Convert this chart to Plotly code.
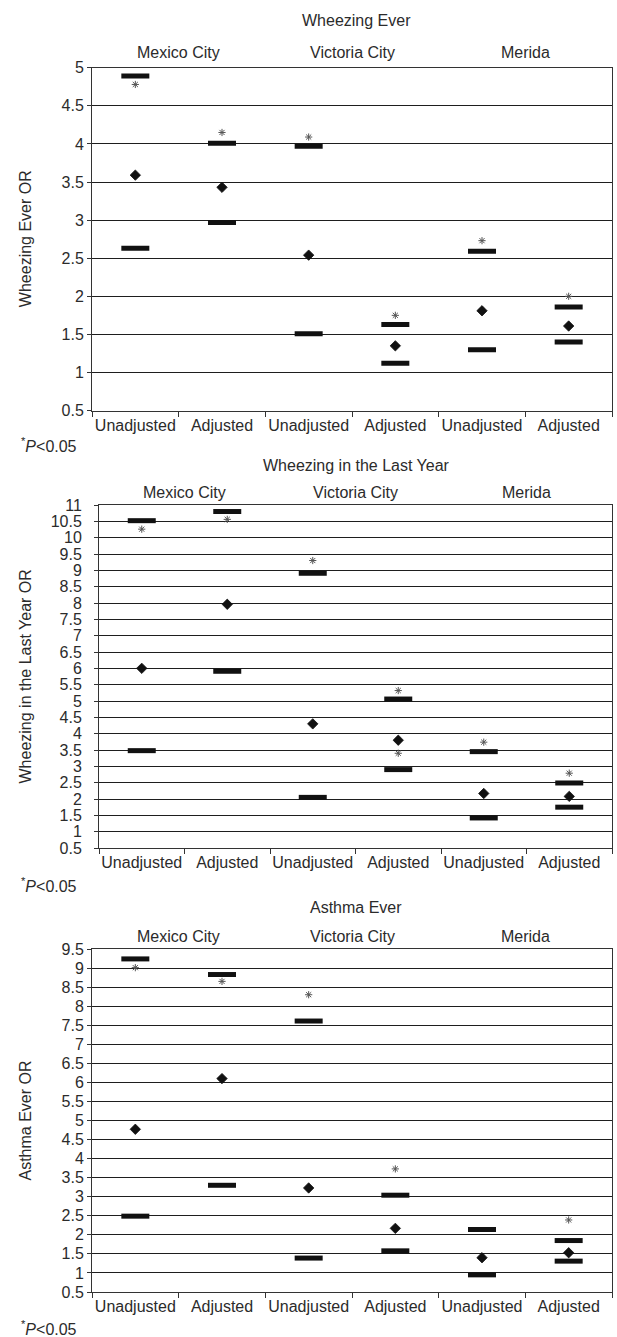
import plotly.graph_objects as go

# ---------------- data ----------------
groups = ["Unadjusted", "Adjusted", "Unadjusted", "Adjusted", "Unadjusted", "Adjusted"]
group_pos = [0, 1, 2, 3, 4, 5]
cities = ["Mexico City", "Victoria City", "Merida"]
city_pos = [0.5, 2.5, 4.5]
boundaries = [-0.5, 0.5, 1.5, 2.5, 3.5, 4.5, 5.5]

panel_titles = ["Wheezing Ever", "Wheezing in the Last Year", "Asthma Ever"]
yaxis_titles = ["Wheezing Ever OR", "Wheezing in the Last Year OR", "Asthma Ever OR"]

# Wheezing Ever
we_or = [3.59, 3.43, 2.54, 1.35, 1.81, 1.61]
we_upper = [4.89, 4.01, 3.97, 1.63, 2.59, 1.86]
we_lower = [2.63, 2.97, 1.51, 1.12, 1.30, 1.40]
we_star_x = [0, 1, 2, 3, 4, 5]
we_star_y = [4.78, 4.15, 4.09, 1.75, 2.73, 2.00]
we_ticks = [0.5, 1, 1.5, 2, 2.5, 3, 3.5, 4, 4.5, 5]

# Wheezing in the Last Year
wl_or = [6.00, 7.96, 4.30, 3.80, 2.17, 2.08]
wl_upper = [10.52, 10.80, 8.91, 5.06, 3.45, 2.49]
wl_lower = [3.48, 5.91, 2.05, 2.90, 1.42, 1.75]
wl_star_x = [0, 1, 2, 3, 3, 4, 5]
wl_star_y = [10.26, 10.56, 9.30, 5.32, 3.40, 3.74, 2.79]
wl_ticks = [0.5, 1, 1.5, 2, 2.5, 3, 3.5, 4, 4.5, 5, 5.5, 6, 6.5, 7, 7.5, 8,
            8.5, 9, 9.5, 10, 10.5, 11]

# Asthma Ever
ae_or = [4.77, 6.10, 3.23, 2.17, 1.40, 1.53]
ae_upper = [9.24, 8.83, 7.61, 3.04, 2.14, 1.85]
ae_lower = [2.49, 3.30, 1.39, 1.58, 0.95, 1.31]
ae_star_x = [0, 1, 2, 3, 5]
ae_star_y = [9.01, 8.65, 8.30, 3.73, 2.39]
ae_ticks = [0.5, 1, 1.5, 2, 2.5, 3, 3.5, 4, 4.5, 5, 5.5, 6, 6.5, 7, 7.5, 8,
            8.5, 9, 9.5]

panels = [
    (we_or, we_upper, we_lower, we_star_x, we_star_y, we_ticks),
    (wl_or, wl_upper, wl_lower, wl_star_x, wl_star_y, wl_ticks),
    (ae_or, ae_upper, ae_lower, ae_star_x, ae_star_y, ae_ticks),
]

# ---------------- layout geometry (pixels) ----------------
W, H = 617, 1337
FONT = "Liberation Sans, Arial, sans-serif"
TXT = "#2b2b2b"
geo = [
    # left, right, top, bottom, title_y, city_y, note_y, label standoff
    (92, 612, 67.7, 410.6, 21, 52.5, 445, 0),
    (99, 612, 505, 848, 465, 492, 885, 9),
    (92, 612, 949, 1292, 907, 936, 1328, 0),
]


def xp(p):
    return p / W


def yp(p):
    return 1 - p / H


fig = go.Figure()
annotations = []
layout_axes = {}

for i, (orv, up, lo, sx, sy, ticks) in enumerate(panels):
    n = "" if i == 0 else str(i + 1)
    xa, ya = "x" + n, "y" + n
    left, right, top, bottom, ty, cy, ny, standoff = geo[i]

    # CI bounds
    for vals in (up, lo):
        fig.add_trace(go.Scatter(
            x=group_pos, y=vals, mode="markers", xaxis=xa, yaxis=ya,
            marker=dict(symbol="line-ew", size=20, color="#111111",
                        line=dict(width=5, color="#111111")),
            showlegend=False, hoverinfo="skip"))
    # OR point
    fig.add_trace(go.Scatter(
        x=group_pos, y=orv, mode="markers", xaxis=xa, yaxis=ya,
        marker=dict(symbol="diamond", size=8, color="#111111",
                    line=dict(width=0.8, color="#111111")),
        showlegend=False))
    # significance stars
    fig.add_trace(go.Scatter(
        x=sx, y=sy, mode="markers", xaxis=xa, yaxis=ya,
        marker=dict(symbol="asterisk-open", size=6, color="#555555",
                    line=dict(width=1, color="#555555")),
        showlegend=False, hoverinfo="skip"))

    layout_axes["xaxis" + n] = dict(
        domain=[xp(left), xp(right)], anchor=ya, range=[-0.5, 5.5],
        tickmode="array", tickvals=group_pos, ticktext=groups, ticks="",
        showgrid=False, zeroline=False, showline=True, linecolor="#333333",
        linewidth=1, mirror=True, automargin=False,
        tickfont=dict(family=FONT, size=16, color=TXT),
        minor=dict(tickmode="array", tickvals=boundaries, ticks="outside",
                   ticklen=5, tickcolor="#333333", showgrid=False),
    )
    layout_axes["yaxis" + n] = dict(
        domain=[yp(bottom), yp(top)], anchor=xa, range=[0.5, ticks[-1]],
        tickmode="array", tickvals=ticks, ticks="outside", ticklen=4,
        tickcolor="#333333", showgrid=True, gridcolor="#1e1e1e",
        gridwidth=1.3, zeroline=False, showline=True, linecolor="#333333",
        linewidth=1, mirror=True, ticklabelstandoff=standoff,
        automargin=False,
        tickfont=dict(family=FONT, size=16, color=TXT),
    )

    # panel title
    annotations.append(dict(
        text=panel_titles[i], xref="paper", yref="paper",
        x=xp((92 + 612) / 2 + 4), y=yp(ty), xanchor="center", yanchor="middle",
        showarrow=False, font=dict(family=FONT, size=16, color=TXT)))
    # city labels
    for c, cp in zip(cities, city_pos):
        annotations.append(dict(
            text=c, xref=xa, yref="paper", x=cp, y=yp(cy),
            xanchor="center", yanchor="middle", showarrow=False,
            font=dict(family=FONT, size=16, color=TXT)))
    # y-axis title
    annotations.append(dict(
        text=yaxis_titles[i], xref="paper", yref="paper", x=xp(25),
        y=yp((top + bottom) / 2), xanchor="center", yanchor="middle",
        textangle=-90, showarrow=False,
        font=dict(family=FONT, size=16, color=TXT)))
    # significance note
    annotations.append(dict(
        text="<sup>*</sup><i>P</i>&lt;0.05", xref="paper", yref="paper",
        x=xp(19), y=yp(ny), xanchor="left", yanchor="middle",
        showarrow=False, font=dict(family=FONT, size=16, color=TXT)))

fig.update_layout(
    width=W, height=H,
    margin=dict(l=0, r=0, t=0, b=0, autoexpand=False),
    paper_bgcolor="white", plot_bgcolor="white",
    showlegend=False,
    annotations=annotations,
    **layout_axes,
)

fig.write_html(
    "out.html",
    config={"displayModeBar": False},
    post_script="document.body.style.margin='0';document.body.style.padding='0';"
                "document.body.style.overflow='hidden';",
)
